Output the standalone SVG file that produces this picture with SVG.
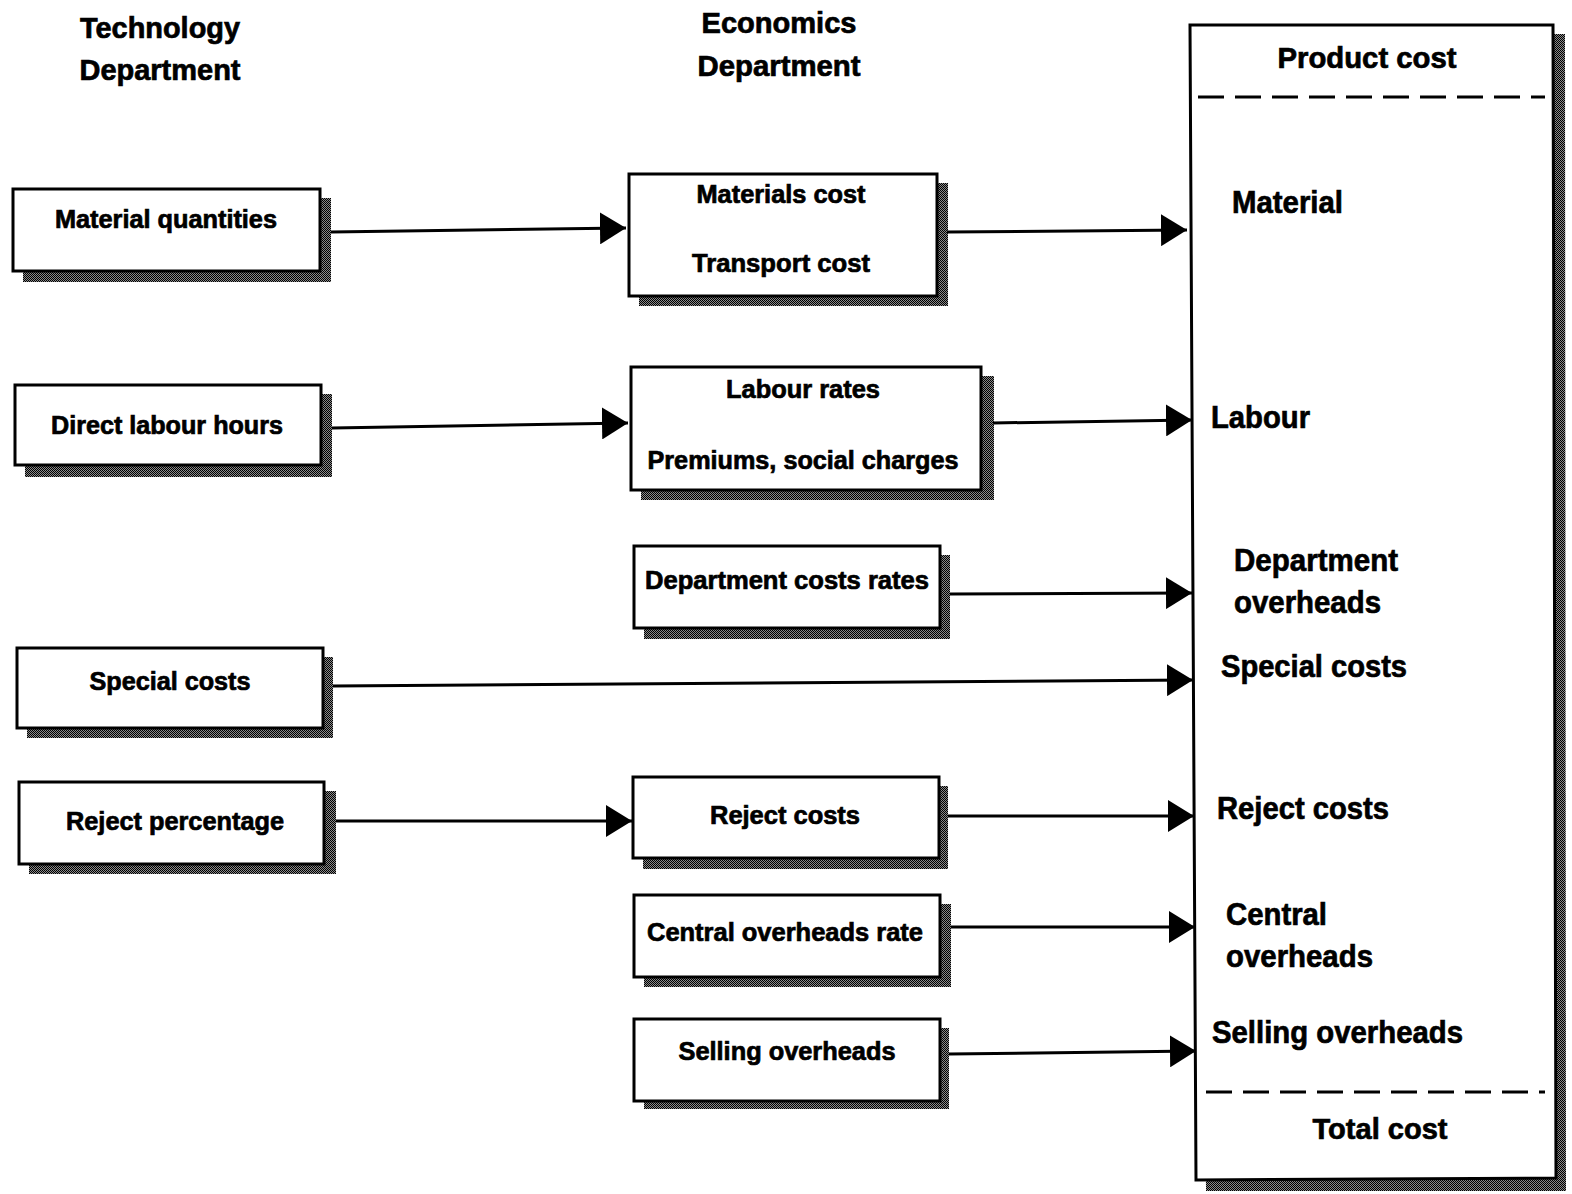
<svg xmlns="http://www.w3.org/2000/svg" width="1572" height="1194" viewBox="0 0 1572 1194">
  <defs>
    <!-- dithered drop shadow -->
    <pattern id="dither" width="2" height="2" patternUnits="userSpaceOnUse">
      <rect width="2" height="2" fill="#8a8a8a"/>
      <rect x="0" y="0" width="1" height="1" fill="#000"/>
      <rect x="1" y="1" width="1" height="1" fill="#000"/>
    </pattern>
    <marker id="arrow" viewBox="0 0 26 32" refX="26" refY="16" markerWidth="26" markerHeight="32" markerUnits="userSpaceOnUse" orient="auto">
      <path d="M0,0 L26,16 L0,32 Z" fill="#000"/>
    </marker>
  </defs>
  <style>
    text { font-family: "Liberation Sans", Arial, sans-serif; font-weight: bold; fill: #000; stroke: #000; stroke-width: 0.7; }
    .box { fill: #fff; stroke: #000; stroke-width: 3; }
    .shadow { fill: url(#dither); }
    .lbl { font-size: 25px; text-anchor: middle; }
    .hdr { font-size: 29px; text-anchor: middle; }
    .item { font-size: 32px; }
    .conn { stroke: #000; stroke-width: 3; fill: none; marker-end: url(#arrow); }
    .dash { stroke: #000; stroke-width: 3; stroke-dasharray: 26 11; fill: none; }
  </style>
  <rect width="1572" height="1194" fill="#fff"/>

  <!-- column headers -->
  <g id="hdr-technology">
    <text class="hdr" x="160" y="38" textLength="160" lengthAdjust="spacingAndGlyphs">Technology</text>
    <text class="hdr" x="160" y="80" textLength="161" lengthAdjust="spacingAndGlyphs">Department</text>
  </g>
  <g id="hdr-economics">
    <text class="hdr" x="779" y="33" textLength="155" lengthAdjust="spacingAndGlyphs">Economics</text>
    <text class="hdr" x="779" y="76" textLength="163" lengthAdjust="spacingAndGlyphs">Department</text>
  </g>

  <!-- technology department boxes -->
  <g id="material-quantities">
    <rect class="shadow" x="23" y="198" width="308" height="84"/>
    <rect class="box" x="13" y="189" width="307" height="82"/>
    <text class="lbl" x="166" y="228" textLength="222" lengthAdjust="spacingAndGlyphs">Material quantities</text>
  </g>
  <g id="direct-labour-hours">
    <rect class="shadow" x="25" y="394" width="307" height="83"/>
    <rect class="box" x="15" y="385" width="306" height="80"/>
    <text class="lbl" x="167" y="434" textLength="232" lengthAdjust="spacingAndGlyphs">Direct labour hours</text>
  </g>
  <g id="special-costs-src">
    <rect class="shadow" x="27" y="657" width="306" height="81"/>
    <rect class="box" x="17" y="648" width="306" height="80"/>
    <text class="lbl" x="170" y="690" textLength="161" lengthAdjust="spacingAndGlyphs">Special costs</text>
  </g>
  <g id="reject-percentage">
    <rect class="shadow" x="29" y="791" width="307" height="83"/>
    <rect class="box" x="19" y="782" width="305" height="82"/>
    <text class="lbl" x="175" y="830" textLength="218" lengthAdjust="spacingAndGlyphs">Reject percentage</text>
  </g>

  <!-- economics department boxes -->
  <g id="materials-cost">
    <rect class="shadow" x="639" y="183" width="309" height="123"/>
    <rect class="box" x="629" y="174" width="308" height="122"/>
    <text class="lbl" x="781" y="203" textLength="169" lengthAdjust="spacingAndGlyphs">Materials cost</text>
    <text class="lbl" x="781" y="272" textLength="178" lengthAdjust="spacingAndGlyphs">Transport cost</text>
  </g>
  <g id="labour-rates">
    <rect class="shadow" x="641" y="376" width="353" height="124"/>
    <rect class="box" x="631" y="367" width="350" height="123"/>
    <text class="lbl" x="803" y="398" textLength="154" lengthAdjust="spacingAndGlyphs">Labour rates</text>
    <text class="lbl" x="803" y="469" textLength="311" lengthAdjust="spacingAndGlyphs">Premiums, social charges</text>
  </g>
  <g id="department-costs-rates">
    <rect class="shadow" x="644" y="555" width="306" height="84"/>
    <rect class="box" x="634" y="546" width="306" height="82"/>
    <text class="lbl" x="787" y="589" textLength="284" lengthAdjust="spacingAndGlyphs">Department costs rates</text>
  </g>
  <g id="reject-costs">
    <rect class="shadow" x="643" y="786" width="305" height="83"/>
    <rect class="box" x="633" y="777" width="306" height="81"/>
    <text class="lbl" x="785" y="824" textLength="150" lengthAdjust="spacingAndGlyphs">Reject costs</text>
  </g>
  <g id="central-overheads-rate">
    <rect class="shadow" x="644" y="904" width="307" height="83"/>
    <rect class="box" x="634" y="895" width="306" height="82"/>
    <text class="lbl" x="785" y="941" textLength="276" lengthAdjust="spacingAndGlyphs">Central overheads rate</text>
  </g>
  <g id="selling-overheads">
    <rect class="shadow" x="644" y="1028" width="305" height="81"/>
    <rect class="box" x="634" y="1019" width="306" height="82"/>
    <text class="lbl" x="787" y="1060" textLength="217" lengthAdjust="spacingAndGlyphs">Selling overheads</text>
  </g>

  <!-- product cost sheet -->
  <g id="product-cost">
    <polygon class="shadow" points="1200,34 1565,34 1566,1191 1206,1191"/>
    <polygon class="box" points="1190,25 1553,25 1556,1178 1196,1180"/>
    <text class="hdr" x="1367" y="68" font-size="30" textLength="179" lengthAdjust="spacingAndGlyphs">Product cost</text>
    <line class="dash" x1="1198" y1="97" x2="1545" y2="97"/>
    <text class="item" x="1232" y="213" textLength="111" lengthAdjust="spacingAndGlyphs">Material</text>
    <text class="item" x="1211" y="428" textLength="99" lengthAdjust="spacingAndGlyphs">Labour</text>
    <text class="item" x="1234" y="571" textLength="164" lengthAdjust="spacingAndGlyphs">Department</text>
    <text class="item" x="1234" y="613" textLength="147" lengthAdjust="spacingAndGlyphs">overheads</text>
    <text class="item" x="1221" y="677" textLength="186" lengthAdjust="spacingAndGlyphs">Special costs</text>
    <text class="item" x="1217" y="819" textLength="172" lengthAdjust="spacingAndGlyphs">Reject costs</text>
    <text class="item" x="1226" y="925" textLength="101" lengthAdjust="spacingAndGlyphs">Central</text>
    <text class="item" x="1226" y="967" textLength="147" lengthAdjust="spacingAndGlyphs">overheads</text>
    <text class="item" x="1212" y="1043" textLength="251" lengthAdjust="spacingAndGlyphs">Selling overheads</text>
    <line class="dash" x1="1206" y1="1092" x2="1545" y2="1092"/>
    <text class="hdr" x="1380" y="1139" font-size="30" textLength="135" lengthAdjust="spacingAndGlyphs">Total cost</text>
  </g>

  <!-- connectors -->
  <g id="connectors">
    <line class="conn" x1="331" y1="232" x2="626" y2="228"/>
    <line class="conn" x1="947" y1="232" x2="1187" y2="230"/>
    <line class="conn" x1="332" y1="428" x2="628" y2="423"/>
    <line class="conn" x1="993" y1="423" x2="1192" y2="420"/>
    <line class="conn" x1="950" y1="594" x2="1192" y2="593"/>
    <line class="conn" x1="333" y1="686" x2="1193" y2="680"/>
    <line class="conn" x1="336" y1="821" x2="632" y2="821"/>
    <line class="conn" x1="948" y1="816" x2="1194" y2="816"/>
    <line class="conn" x1="951" y1="927" x2="1195" y2="927"/>
    <line class="conn" x1="949" y1="1054" x2="1196" y2="1051"/>
  </g>
</svg>
